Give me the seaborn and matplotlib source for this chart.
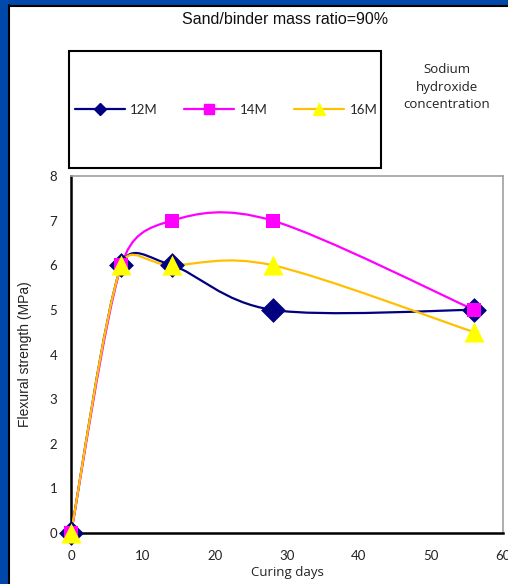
import matplotlib
matplotlib.use("Agg")
import matplotlib.pyplot as plt
from matplotlib.path import Path
from matplotlib.patches import PathPatch, Rectangle
from matplotlib.lines import Line2D
import numpy as np
import pandas as pd
import seaborn as sns


# Data
days = [0, 7, 14, 28, 56]
strength_12M = [0, 6, 6, 5, 5]
strength_14M = [0, 6, 7, 7, 5]
strength_16M = [0, 6, 6, 6, 4.5]
series_names = ["12M", "14M", "16M"]
x_ticks = [0, 10, 20, 30, 40, 50, 60]
y_ticks = [0, 1, 2, 3, 4, 5, 6, 7, 8]

line_colors = {"12M": "#000080", "14M": "#FF00FF", "16M": "#FFC000"}
marker_colors = {"12M": "#000080", "14M": "#FF00FF", "16M": "#FFFF00"}
markers = {"12M": "D", "14M": "s", "16M": "^"}
marker_sizes = {"12M": 160, "14M": 110, "16M": 210}

df = pd.DataFrame({
    "days": days * 3,
    "strength": strength_12M + strength_14M + strength_16M,
    "series": [n for n in series_names for _ in days],
})


# Excel-like smoothed line: cubic bezier, tangent/6 capped at half the segment, in pixel space
def smooth_path(x, y, sx, sy):
    P = np.column_stack([np.asarray(x, float) * sx, np.asarray(y, float) * sy])
    n = len(P)
    verts = [P[0]]
    codes = [Path.MOVETO]
    for i in range(n - 1):
        p0 = P[i - 1] if i > 0 else P[i]
        p1, p2 = P[i], P[i + 1]
        p3 = P[i + 2] if i + 2 < n else P[i + 1]
        half = np.linalg.norm(p2 - p1) / 2
        t1 = (p2 - p0) / 6
        t2 = (p3 - p1) / 6
        if np.linalg.norm(t1) > half:
            t1 = t1 / np.linalg.norm(t1) * half
        if np.linalg.norm(t2) > half:
            t2 = t2 / np.linalg.norm(t2) * half
        verts += [p1 + t1, p2 - t2, p2]
        codes += [Path.CURVE4] * 3
    verts = np.array(verts) / [sx, sy]
    return Path(verts, codes)


def plot():
    sns.set_style("white")
    plt.rcParams["font.family"] = ["Lato", "DejaVu Sans"]

    fig = plt.figure(figsize=(5.08, 5.84), dpi=100)
    fig.patch.set_facecolor("white")

    # slide frame (blue strips with dark inner edge)
    fig.patches.append(Rectangle((0, 0), 8 / 508, 1, transform=fig.transFigure,
                                 facecolor="#0048AA", edgecolor="none", zorder=0))
    fig.patches.append(Rectangle((0, 1 - 5 / 584), 1, 5 / 584, transform=fig.transFigure,
                                 facecolor="#0048AA", edgecolor="none", zorder=0))
    fig.add_artist(Line2D([8.5 / 508, 8.5 / 508], [0, 1 - 5 / 584], transform=fig.transFigure,
                          color="black", lw=1.5))
    fig.add_artist(Line2D([8.5 / 508, 1], [1 - 5.5 / 584, 1 - 5.5 / 584], transform=fig.transFigure,
                          color="black", lw=1.5))

    ax = fig.add_axes([71 / 508, 51 / 584, 432 / 508, 357 / 584])
    ax.set_xlim(0, 60)
    ax.set_ylim(0, 8)

    sx = 432 / 60
    sy = 357 / 8
    values = {"12M": strength_12M, "14M": strength_14M, "16M": strength_16M}
    for name in series_names:
        ax.add_patch(PathPatch(smooth_path(days, values[name], sx, sy), facecolor="none",
                               edgecolor=line_colors[name], lw=1.6, zorder=3, clip_on=False))

    for name in series_names:
        sub = df[df["series"] == name]
        sns.scatterplot(data=sub, x="days", y="strength", marker=markers[name],
                        s=marker_sizes[name], color=marker_colors[name], linewidth=0,
                        ax=ax, zorder=4, clip_on=False, legend=False)

    ax.set_xticks(x_ticks)
    ax.set_yticks(y_ticks)
    ax.tick_params(axis="both", direction="out", length=4, width=1.5, color="black",
                   labelsize=9.5, labelcolor="#222222", pad=6)
    ax.tick_params(axis="x", pad=8)
    for s in ["left", "bottom"]:
        ax.spines[s].set_color("black")
        ax.spines[s].set_linewidth(1.8)
    for s in ["top", "right"]:
        ax.spines[s].set_color("#A0A0A0")
        ax.spines[s].set_linewidth(1.2)

    ax.set_xlabel("Curing days", fontsize=9.5, va="center", color="#222222",
                  family=["Open Sans", "DejaVu Sans"])
    ax.xaxis.set_label_coords(0.5, -0.112)
    ax.set_ylabel("Flexural strength (MPa)", fontsize=10, va="center", color="#222222",
                  family=["Liberation Sans", "DejaVu Sans"])
    ax.yaxis.set_label_coords(-0.1065, 0.5)

    fig.text(285 / 508, 1 - 20 / 584, "Sand/binder mass ratio=90%", ha="center", va="center",
             fontsize=11.5, family=["Liberation Sans", "DejaVu Sans"], color="#111111")
    fig.text(447 / 508, 1 - 87 / 584, "Sodium\nhydroxide\nconcentration", ha="center", va="center",
             fontsize=9.5, linespacing=1.45, color="#222222", family=["Open Sans", "DejaVu Sans"])

    # legend box
    fig.patches.append(Rectangle((69 / 508, 1 - 168 / 584), 312 / 508, 117 / 584,
                                 transform=fig.transFigure, facecolor="white",
                                 edgecolor="black", lw=1.5, zorder=1))
    handles = [
        Line2D([], [], color=line_colors[n], lw=1.6, marker=markers[n],
               markerfacecolor=marker_colors[n], markeredgecolor=marker_colors[n],
               markersize={"12M": 6, "14M": 7, "16M": 9}[n])
        for n in series_names
    ]
    fig.legend(handles, series_names, loc="center", bbox_to_anchor=(226 / 508, 1 - 110 / 584),
               ncol=3, frameon=False, fontsize=9.5, handlelength=3.8, handletextpad=0.4,
               columnspacing=2.0)

    fig.savefig("out.png", dpi=100)


if __name__ == "__main__":
    plot()
